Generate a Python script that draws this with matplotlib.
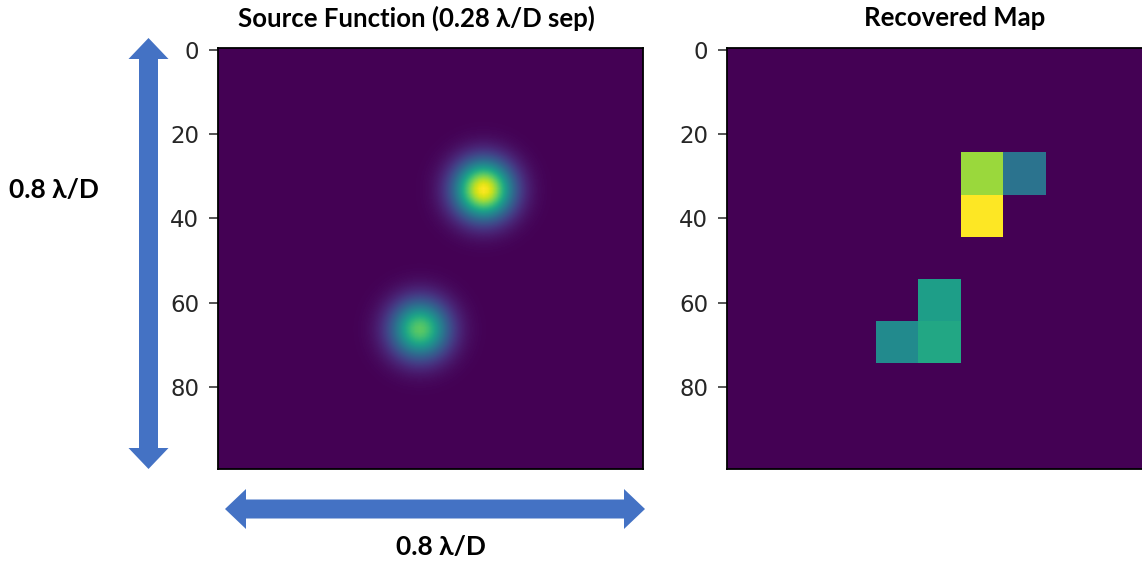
import numpy as np
import matplotlib
matplotlib.use("Agg")
import matplotlib.pyplot as plt
from matplotlib.patches import Polygon

# ---- data ----
grid_size = 100
# point sources in the source function (pixel coords)
src_x = [62.0, 47.0]
src_y = [33.3, 66.4]
src_amp = [1.0, 0.75]
src_sigma = [4.8, 4.8]

# recovered map: 10x10 pixel blocks
block = 10
rec_rows = [25, 25, 35, 55, 65, 65]
rec_cols = [55, 65, 55, 45, 35, 45]
rec_vals = [0.85, 0.38, 1.0, 0.56, 0.48, 0.60]

yticks = [0, 20, 40, 60, 80]
title_left = "Source Function (0.28 λ/D sep)"
title_right = "Recovered Map"
scale_label = "0.8 λ/D"

# ---- build images ----
yy, xx = np.mgrid[0:grid_size, 0:grid_size]
source = np.zeros((grid_size, grid_size))
for x0, y0, a, s in zip(src_x, src_y, src_amp, src_sigma):
    source += a * np.exp(-((xx - x0) ** 2 + (yy - y0) ** 2) / (2 * s ** 2))

recovered = np.zeros((grid_size, grid_size))
for r, c, v in zip(rec_rows, rec_cols, rec_vals):
    recovered[r:r + block, c:c + block] = v

# ---- figure ----
W, H = 1142, 569
fig = plt.figure(figsize=(W / 100, H / 100), dpi=100)

def px_axes(left, top, right, bottom):
    return fig.add_axes([left / W, 1 - bottom / H, (right - left) / W, (bottom - top) / H])

ax1 = px_axes(218, 47.5, 643, 469)
ax2 = px_axes(727, 47.5, 1152, 469)

for ax, img, interp in ((ax1, source, "bilinear"), (ax2, recovered, "nearest")):
    ax.imshow(img, cmap="viridis", vmin=0, vmax=1, aspect="auto", interpolation=interp)
    ax.set_xticks([])
    ax.set_yticks(yticks)
    ax.tick_params(axis="y", labelsize=16.5, length=6.5, width=1.1, pad=7, colors="#262626")
    for sp in ax.spines.values():
        sp.set_linewidth(1.3)
        sp.set_color("black")

# overlay in pixel coordinates for annotations
ov = fig.add_axes([0, 0, 1, 1], zorder=-1)
ov.set_xlim(0, W)
ov.set_ylim(H, 0)
ov.axis("off")

fam = ["Lato", "DejaVu Sans"]
blue = "#4472C4"

def double_arrow(x0, y0, x1, y1, shaft=19, head_w=40, head_l=21):
    L = np.hypot(x1 - x0, y1 - y0)
    u = np.array([(x1 - x0) / L, (y1 - y0) / L])
    n = np.array([-u[1], u[0]])
    p0 = np.array([x0, y0], float)
    p1 = np.array([x1, y1], float)
    b0 = p0 + u * head_l
    b1 = p1 - u * head_l
    hs, hh = shaft / 2, head_w / 2
    verts = [p0, b0 + n * hh, b0 + n * hs, b1 + n * hs, b1 + n * hh, p1,
             b1 - n * hh, b1 - n * hs, b0 - n * hs, b0 - n * hh]
    ov.add_patch(Polygon(verts, closed=True, facecolor=blue, edgecolor="none"))

double_arrow(148.5, 38, 148.5, 469)
double_arrow(225, 509, 645, 509)

ov.text(54, 190, scale_label, ha="center", va="center", fontsize=19,
        fontweight="bold", family=fam)
ov.text(441, 547, scale_label, ha="center", va="center", fontsize=19,
        fontweight="bold", family=fam)
ov.text(416, 18, title_left, ha="center", va="center", fontsize=18.5,
        fontweight="bold", family=fam)
ov.text(955, 18, title_right, ha="center", va="center", fontsize=18.5,
        fontweight="bold", family=fam)

fig.savefig("out.png", dpi=100)
